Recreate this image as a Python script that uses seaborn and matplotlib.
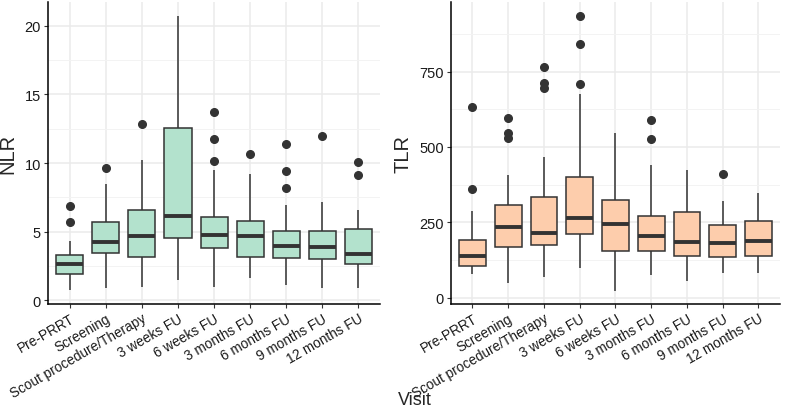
import numpy as np
import pandas as pd
import seaborn as sns
import matplotlib.pyplot as plt
from matplotlib.ticker import MultipleLocator

visits = ["Pre-PRRT", "Screening", "Scout procedure/Therapy", "3 weeks FU", "6 weeks FU",
          "3 months FU", "6 months FU", "9 months FU", "12 months FU"]

# NLR box summaries
nlr_low = [0.73, 0.89, 0.97, 1.45, 0.97, 1.64, 1.14, 0.89, 0.89]
nlr_q1 = [1.91, 3.43, 3.19, 4.55, 3.80, 3.19, 3.12, 3.05, 2.64]
nlr_med = [2.64, 4.28, 4.69, 6.12, 4.76, 4.72, 3.99, 3.87, 3.39]
nlr_q3 = [3.31, 5.68, 6.60, 12.53, 6.09, 5.76, 5.05, 5.03, 5.22]
nlr_high = [4.30, 8.46, 10.20, 20.73, 9.50, 9.19, 6.92, 7.18, 6.58]
nlr_out = [[6.89, 5.68], [9.67], [12.82], [], [13.71, 11.78, 10.18],
           [10.64], [11.41, 9.43, 8.15], [11.97], [10.06, 9.15]]

# TLR box summaries
tlr_low = [78, 48, 69, 98, 24, 76, 54, 83, 83]
tlr_q1 = [105, 167, 176, 210, 156, 156, 137, 134, 139]
tlr_med = [140, 235, 216, 263, 246, 205, 185, 182, 187]
tlr_q3 = [190, 306, 335, 401, 323, 271, 283, 242, 254]
tlr_high = [287, 406, 466, 675, 547, 440, 423, 322, 349]
tlr_out = [[634, 362], [595, 547, 531], [764, 712, 696], [935, 841, 708], [],
           [588, 525], [], [409], []]


def expand(low, q1, med, q3, high, out):
    # rebuild a sample whose quartiles / whiskers match the read summaries
    rows = []
    for i, v in enumerate(visits):
        vals = [low[i]] + [q1[i]] * 20 + [med[i]] * 20 + [q3[i]] * 20 + [high[i]] + out[i]
        rows += [(v, x) for x in vals]
    return pd.DataFrame(rows, columns=["Visit", "value"])


nlr_df = expand(nlr_low, nlr_q1, nlr_med, nlr_q3, nlr_high, nlr_out)
tlr_df = expand(tlr_low, tlr_q1, tlr_med, tlr_q3, tlr_high, tlr_out)

sns.set_theme(style="white")
plt.rcParams["font.family"] = ["Liberation Sans", "DejaVu Sans"]

fig = plt.figure(figsize=(7.87, 4.14), dpi=100)
ax1 = fig.add_axes([0.061, 0.263, 0.422, 0.73])
ax2 = fig.add_axes([0.573, 0.263, 0.418, 0.73])

panels = [
    (ax1, nlr_df, "#B3E2CD", "NLR", (-0.27, 21.73), 5),
    (ax2, tlr_df, "#FDCDAC", "TLR", (-21, 981), 250),
]

for ax, df, fill, label, ylim, step in panels:
    sns.boxplot(data=df, x="Visit", y="value", ax=ax, color=fill, saturation=1,
                width=0.75, linecolor="#333333", linewidth=1.1, showcaps=False,
                medianprops=dict(linewidth=2.8, color="#333333"),
                flierprops=dict(marker="o", markerfacecolor="#333333",
                                markeredgecolor="#333333", markersize=5.5))
    ax.set_xlim(-0.6, 8.6)
    ax.set_ylim(*ylim)
    ax.yaxis.set_major_locator(MultipleLocator(step))
    ax.yaxis.set_minor_locator(MultipleLocator(step / 2))
    ax.set_axisbelow(True)
    ax.grid(True, which="major", axis="both", color="#ebebeb", linewidth=1.1)
    ax.grid(True, which="minor", axis="y", color="#f3f3f3", linewidth=0.7)
    for s in ["top", "right"]:
        ax.spines[s].set_visible(False)
    for s in ["left", "bottom"]:
        ax.spines[s].set_color("black")
        ax.spines[s].set_linewidth(1.1)
    ax.tick_params(axis="both", which="major", length=3, width=0.8, color="#333333",
                   labelsize=10.5, labelcolor="#1a1a1a", direction="out",
                   bottom=True, left=True, pad=2)
    ax.tick_params(axis="y", which="minor", length=0)
    ax.set_xticks(range(len(visits)))
    ax.set_xticklabels(visits, rotation=30, ha="right", rotation_mode="anchor", fontsize=9.8)
    ax.set_xlabel("")
    ax.set_ylabel(label, fontsize=14.5, labelpad=5)

fig.text(0.527, 0.033, "Visit", ha="center", va="center", fontsize=13)

fig.savefig("out.png", dpi=100)
